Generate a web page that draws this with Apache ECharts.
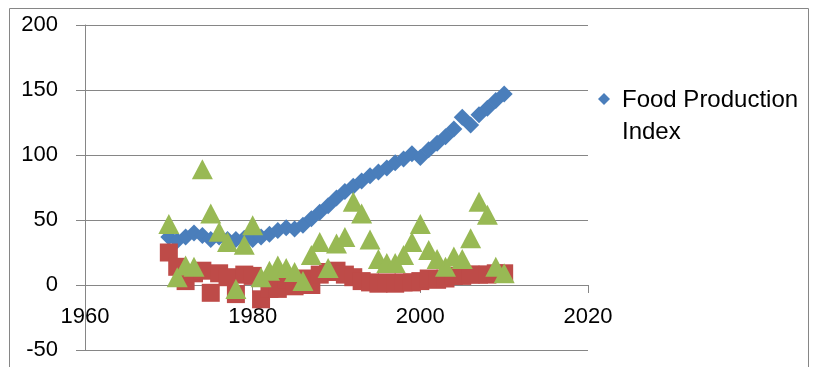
<!DOCTYPE html>
<html>
<head>
<meta charset="utf-8">
<script src="https://cdn.jsdelivr.net/npm/echarts@6/dist/echarts.min.js"></script>
<style>
  html, body { margin: 0; padding: 0; background: #fff; }
  #chart { width: 818px; height: 367px; }
</style>
</head>
<body>
<div id="chart"></div>
<script>
// Years on the x axis
const years = [
  1970, 1971, 1972, 1973, 1974, 1975, 1976, 1977, 1978, 1979,
  1980, 1981, 1982, 1983, 1984, 1985, 1986, 1987, 1988, 1989,
  1990, 1991, 1992, 1993, 1994, 1995, 1996, 1997, 1998, 1999,
  2000, 2001, 2002, 2003, 2004, 2005, 2006, 2007, 2008, 2009, 2010
];

// Food Production Index
const foodIndex = [
  37, 34, 37, 40, 38, 35, 37, 35, 35, 36,
  35, 37, 39, 42, 44, 43, 46, 51, 56, 61,
  67, 72, 76, 80, 84, 87, 90, 94, 97, 101,
  98, 104, 109, 114, 120, 129, 123, 131, 136, 142, 147
];

// Second series (red squares)
const series2 = [
  25, 14, 3, 9, 11, -6, 9, 6, -7, 8,
  7, -11, -3, -3, 4, -1, 5, 0, 8, 10,
  11, 8, 6, 3, 2, 1, 2, 1, 2, 2,
  3, 5, 4, 5, 7, 7, 8, 8, 8, 9, 9
];

// Third series (green triangles)
const series3 = [
  47, 6, 15, 14, 89, 55, 41, 33, -3, 31,
  46, 6, 11, 15, 13, 10, 3, 23, 33, 13,
  32, 37, 64, 55, 35, 20, 17, 17, 23, 33,
  47, 27, 20, 14, 22, 20, 36, 64, 54, 14, 9
];

// Axis ranges
const xMin = 1960, xMax = 2020, xStep = 20;
const yMin = -50, yMax = 200, yStep = 50;

const pairs = (vals) => years.map((y, i) => [y, vals[i]]);

const axisGray = '#868686';

// Plot box in pixels
const plotTop = 25, plotBottom = 350;
// Lift the x axis from the bottom edge up to the y = 0 line
const zeroOffset = -(plotBottom - plotTop) * (0 - yMin) / (yMax - yMin);

const chart = echarts.init(document.getElementById('chart'), null, { renderer: 'canvas' });

chart.setOption({
  animation: false,
  backgroundColor: '#ffffff',
  grid: {
    left: 85, right: 230, top: plotTop, bottom: 367 - plotBottom,
    containLabel: false,
    outerBoundsMode: 'none'
  },
  xAxis: {
    type: 'value',
    position: 'bottom',
    offset: zeroOffset,
    min: xMin, max: xMax, interval: xStep,
    axisLine: { show: true, onZero: false, lineStyle: { color: axisGray, width: 1 } },
    axisTick: { show: true, inside: false, length: 8, lineStyle: { color: axisGray } },
    splitLine: { show: false },
    axisLabel: {
      margin: 21,
      color: '#000',
      fontSize: 22,
      fontFamily: "'Liberation Sans', Arial, sans-serif",
      formatter: (v) => String(v)
    }
  },
  yAxis: {
    type: 'value',
    min: yMin, max: yMax, interval: yStep,
    axisLine: { show: true, lineStyle: { color: axisGray, width: 1 } },
    axisTick: { show: true, inside: false, length: 9, lineStyle: { color: axisGray } },
    splitLine: { show: true, lineStyle: { color: axisGray, width: 1 } },
    axisLabel: {
      margin: 27,
      color: '#000',
      fontSize: 22,
      fontFamily: "'Liberation Sans', Arial, sans-serif"
    }
  },
  legend: {
    data: ['Food Production Index'],
    left: 598,
    top: 84,
    padding: 0,
    orient: 'vertical',
    // diamond in the upper part so it lines up with the first text line
    icon: 'path://M6,0L12,6L6,12L0,6Z M6,46L6,46',
    itemWidth: 12,
    itemHeight: 46,
    itemStyle: { opacity: 1 },
    formatter: () => 'Food Production\nIndex',
    textStyle: {
      color: '#000',
      fontSize: 24,
      lineHeight: 32,
      fontFamily: "'Liberation Sans', Arial, sans-serif",
      padding: [0, 0, 0, 7]
    }
  },
  series: [
    {
      name: 'Food Production Index',
      type: 'scatter',
      symbol: 'diamond',
      symbolSize: 17,
      itemStyle: { color: '#4A7EBB', opacity: 1 },
      data: pairs(foodIndex),
      z: 2
    },
    {
      name: 'Series2',
      type: 'scatter',
      symbol: 'rect',
      symbolSize: 18,
      itemStyle: { color: '#BE4B48', opacity: 1 },
      data: pairs(series2),
      z: 3
    },
    {
      name: 'Series3',
      type: 'scatter',
      symbol: 'triangle',
      symbolSize: [21, 20],
      itemStyle: { color: '#98B954', opacity: 1 },
      data: pairs(series3),
      z: 4
    }
  ],
  graphic: [
    {
      type: 'rect',
      silent: true,
      z: -1,
      shape: { x: 9.5, y: 8.5, width: 799, height: 400 },
      style: { fill: null, stroke: axisGray, lineWidth: 1 }
    }
  ]
});
</script>
</body>
</html>
